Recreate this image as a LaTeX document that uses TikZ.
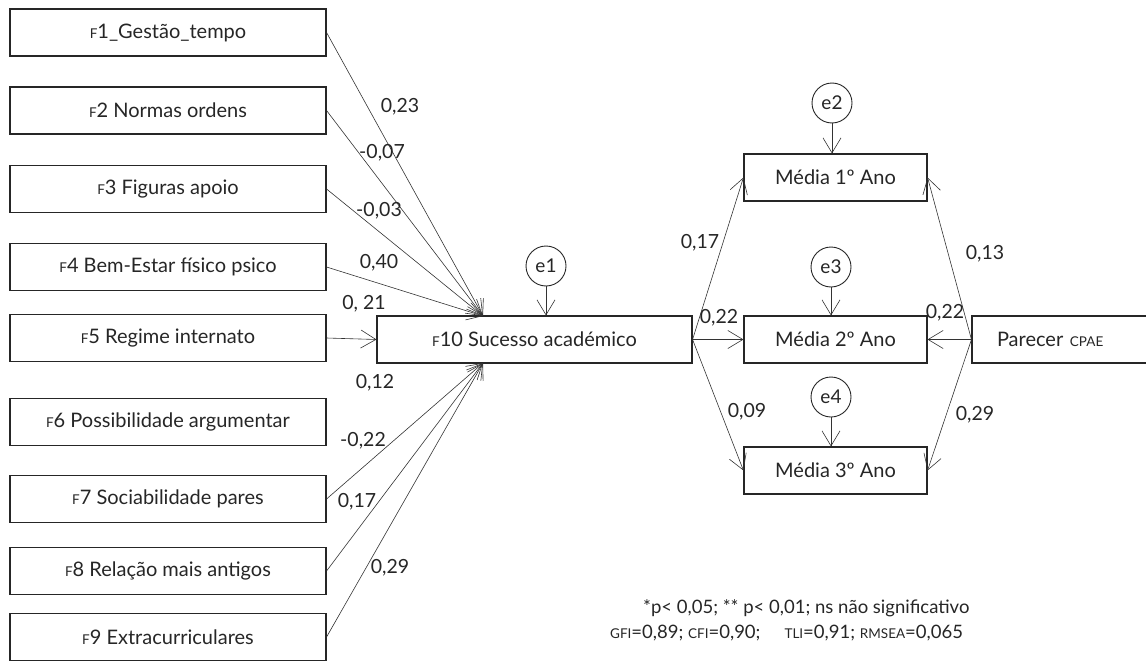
\documentclass[tikz,border=0pt]{standalone}
\usepackage{fontspec}
\setmainfont{Lato}
\usetikzlibrary{arrows.meta}
\newcommand{\smc}[1]{{\fontsize{13.5}{14}\selectfont #1}}
\begin{document}
\begin{tikzpicture}[x=1pt,y=-1pt,
  box/.style={draw=black!85, line width=1.1pt, minimum height=47pt, inner sep=0pt,
    font=\fontsize{20}{23}\selectfont, text=black!85},
  lbox/.style={box, minimum width=316pt},
  mbox/.style={box, minimum width=183pt},
  err/.style={draw=black!85, circle, minimum size=40pt, inner sep=0pt, line width=0.9pt,
    font=\fontsize{19}{22}\selectfont, text=black!85},
  conn/.style={draw=black!80, line width=0.6pt,
    -{Straight Barb[length=15pt,width=18pt,line width=0.6pt]}},
  coef/.style={font=\fontsize{19.5}{22}\selectfont, text=black!85, inner sep=0pt},
  foot/.style={font=\fontsize{18.5}{21}\selectfont, text=black!85, inner sep=0pt, anchor=west},
]
\useasboundingbox (0,0) rectangle (1146,661);

% left boxes
\node[lbox] (f1) at (168,32.5) {\smc{F}1\_Gestão\_tempo};
\node[lbox] (f2) at (168,110.5) {\smc{F}2 Normas ordens};
\node[lbox] (f3) at (168,189) {\smc{F}3 Figuras apoio};
\node[lbox] (f4) at (168,267) {\smc{F}4 Bem-Estar físico psico};
\node[lbox] (f5) at (168,338) {\smc{F}5 Regime internato};
\node[lbox] (f6) at (168,422) {\smc{F}6 Possibilidade argumentar};
\node[lbox] (f7) at (168,499) {\smc{F}7 Sociabilidade pares};
\node[lbox] (f8) at (168,571) {\smc{F}8 Relação mais antigos};
\node[lbox] (f9) at (168,637) {\smc{F}9 Extracurriculares};

% central box
\node[box, minimum width=315pt] (f10) at (534.5,339.5) {\smc{F}10 Sucesso académico};
\coordinate (ti) at (483,316);
\coordinate (bi) at (483,363);

% outcome boxes
\node[mbox] (m1) at (835.5,177.5) {Média 1º Ano};
\node[mbox] (m2) at (835.5,339.5) {Média 2º Ano};
\node[mbox] (m3) at (835.5,470.5) {Média 3º Ano};

% Parecer
\node[box, minimum width=184pt, text width=170pt, align=left] (pa) at (1064,339.5) {\hspace*{18pt}Parecer \smc{CPAE}};

% error circles
\node[err] (e1) at (546,266) {e1};
\node[err] (e2) at (832,103) {e2};
\node[err] (e3) at (831,267) {e3};
\node[err] (e4) at (831,397) {e4};

% connectors
\draw[conn] (f1.east) -- (ti);
\draw[conn] (f2.east) -- (ti);
\draw[conn] (f3.east) -- (ti);
\draw[conn] (f4.east) -- (ti);
\draw[conn] (f5.east) -- (f10.west);
\draw[conn] (f7.east) -- (bi);
\draw[conn] (f8.east) -- (bi);
\draw[conn] (f9.east) -- (bi);

\draw[conn] (e1) -- (e1 |- f10.north);
\draw[conn] (e2) -- (e2 |- m1.north);
\draw[conn] (e3) -- (e3 |- m2.north);
\draw[conn] (e4) -- (e4 |- m3.north);

\draw[conn] (f10.east) -- (m1.west);
\draw[conn] (f10.east) -- (m2.west);
\draw[conn] (f10.east) -- (m3.west);
\draw[conn] (pa.west) -- (m1.east);
\draw[conn] (pa.west) -- (m2.east);
\draw[conn] (pa.west) -- (m3.east);

% coefficients
\node[coef] (c1) at (400,107) {0,23};
\node[coef] (c2) at (382,153) {-0,07};
\node[coef] (c3) at (379,211) {-0,03};
\node[coef] (c4) at (379,263) {0,40};
\node[coef] (c5) at (364,304) {0, 21};
\node[coef] (c6) at (375,383) {0,12};
\node[coef] (c7) at (363,441) {-0,22};
\node[coef] (c8) at (357,502) {0,17};
\node[coef] (c9) at (390,568) {0,29};
\node[coef] (c10) at (700,243) {0,17};
\node[coef] (c11) at (719,318) {0,22};
\node[coef] (c12) at (747,412) {0,09};
\node[coef] (c13) at (985,254) {0,13};
\node[coef] (c14) at (945,313) {0,22};
\node[coef] (c15) at (975,415) {0,29};

% footer
\node[foot] (n1) at (643,608) {*p< 0,05; ** p< 0,01; ns não significativo};
\node[foot] (n2) at (610,633) {\smc{GFI}=0,89; \smc{CFI}=0,90;\hspace*{24pt}\smc{TLI}=0,91; \smc{RMSEA}=0,065};
\end{tikzpicture}
\end{document}
